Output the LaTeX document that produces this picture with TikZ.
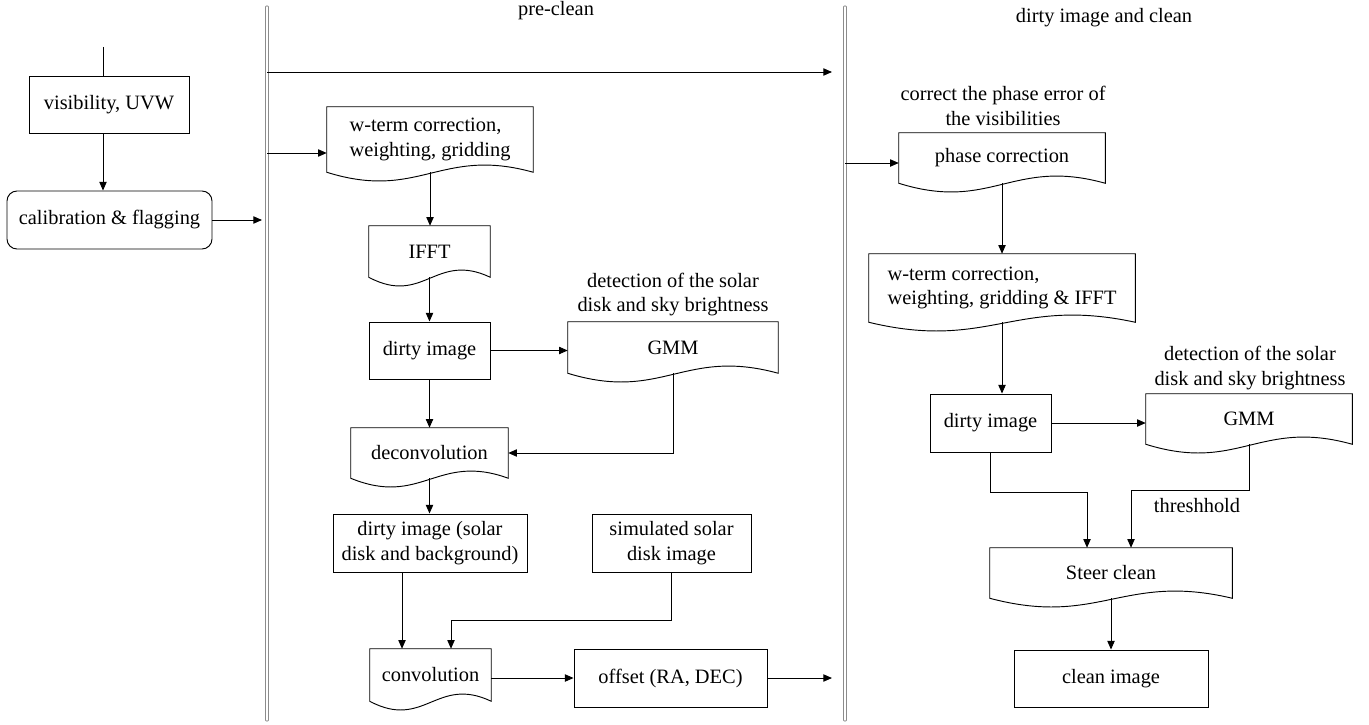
\documentclass[tikz,border=0pt]{standalone}
\usepackage{fontspec}
\setmainfont{Liberation Serif}
\usetikzlibrary{arrows.meta,calc}
\newcommand\fs{\fontsize{15.3}{18.5}\selectfont}
\newcommand\docline[1]{\draw[line] (#1.south west) -- (#1.north west) -- (#1.north east) -- (#1.south east)
  .. controls ($(#1.south west)!0.55!(#1.south east)+(0,-26)$) and ($(#1.south west)!0.45!(#1.south east)+(0,29)$) .. (#1.south west) -- cycle;}
\begin{document}
\begin{tikzpicture}[x=0.75pt,y=-0.75pt,font=\fs,
  line/.style={draw=black,line width=0.7pt},
  arr/.style={line,-{Triangle[length=6.5pt,width=5.5pt]}},
  rail/.style={draw=gray!90,double=white,double distance=1.1pt,line width=0.6pt,line cap=round},
  sz/.style 2 args={minimum width=#1*0.75pt,minimum height=#2*0.75pt},
  box/.style={draw=black,line width=0.7pt,rectangle,inner sep=0pt,align=center},
  doc/.style={rectangle,inner sep=0pt,align=center},
  lbl/.style={inner sep=0pt,align=center}]
\useasboundingbox (0,0) rectangle (1369,724);

% rails
\coordinate (r1t) at (267,7); \coordinate (r1b) at (267,720);
\coordinate (r2t) at (845,7); \coordinate (r2b) at (845,720);
\draw[rail] (r1t) -- (r1b);
\draw[rail] (r2t) -- (r2b);

% titles
\node[lbl] (title1) at (556,11) {pre-clean};
\node[lbl] (title2) at (1104,18) {dirty image and clean};

% left column
\coordinate (in) at (103,47);
\node[box,sz={160}{57}] (vis) at (109,104.5) {visibility, UVW};
\node[box,sz={205}{58},rounded corners=7.5pt] (cal) at (109.5,220) {calibration \& flagging};
\draw[line] (in) -- (in |- vis.north);
\draw[arr] (in |- vis.south) -- (in |- cal.north);
\coordinate (r1e) at (262,220);
\draw[arr] (cal.east) -- (r1e);

% pre-clean lane
\coordinate (t1) at (267,72); \coordinate (t2) at (832,72);
\draw[arr] (t1) -- (t2);
\node[doc,sz={206}{65},align=left] (wt1) at (430,139.5) {w-term correction,\\weighting, gridding};
\docline{wt1}
\coordinate (t3) at (267,153);
\draw[arr] (t3) -- (t3 -| wt1.west);

\node[doc,sz={121}{51}] (ifft) at (429.5,251.5) {IFFT};
\docline{ifft}
\draw[arr] (wt1.south) -- (wt1.south |- ifft.north);

\node[box,sz={121}{57}] (dirty1) at (429.5,350.5) {dirty image};
\draw[arr] (ifft.south) -- (ifft.south |- dirty1.north);

\node[doc,sz={210}{51}] (gmm1) at (673,347.5) {GMM};
\docline{gmm1}
\node[lbl] (det1) at (673,294.5) {detection of the solar\\disk and sky brightness};
\draw[arr] (dirty1.east) -- (dirty1.east -| gmm1.west);

\node[doc,sz={157}{50}] (deconv) at (429.5,453) {deconvolution};
\docline{deconv}
\draw[arr] (dirty1.south) -- (dirty1.south |- deconv.north);
\draw[arr] (gmm1.south) |- (deconv.east);

\node[box,sz={194}{58}] (dsolar) at (430,543) {dirty image (solar\\disk and background)};
\draw[arr] (deconv.south) -- (deconv.south |- dsolar.north);
\node[box,sz={159}{58}] (sim) at (671.5,543) {simulated solar\\disk image};

\node[doc,sz={121}{52}] (conv) at (430.5,675) {convolution};
\docline{conv}
\coordinate (j4) at (402,600);
\draw[arr] (dsolar.south -| j4) -- (conv.north -| j4);
\coordinate (j3) at (451,620);
\draw[arr] (sim.south) |- (j3) -- (j3 |- conv.north);

\node[box,sz={193}{58}] (offset) at (670.5,678) {offset (RA, DEC)};
\draw[arr] (offset.west -| conv.east) -- (offset.west);
\coordinate (t5) at (832,678);
\draw[arr] (offset.east) -- (t5);

% dirty image and clean lane
\node[lbl] (corr) at (1003,106) {correct the phase error of\\the visibilities};
\node[doc,sz={206}{50}] (phase) at (1002,158) {phase correction};
\docline{phase}
\coordinate (t4) at (845,163);
\draw[arr] (t4) -- (t4 -| phase.west);

\node[doc,sz={266}{68},align=left] (wt2) at (1002,288) {w-term correction,\\weighting, gridding \& IFFT};
\docline{wt2}
\draw[arr] (phase.south) -- (phase.south |- wt2.north);

\node[box,sz={121}{58}] (dirty2) at (990.5,423) {dirty image};
\draw[arr] (wt2.south) -- (wt2.south |- dirty2.north);

\node[doc,sz={206}{50}] (gmm2) at (1249,419) {GMM};
\docline{gmm2}
\node[lbl] (det2) at (1250,368) {detection of the solar\\disk and sky brightness};
\draw[arr] (dirty2.east) -- (dirty2.east -| gmm2.west);

\node[doc,sz={242}{50}] (steer) at (1111,573) {Steer clean};
\docline{steer}
\coordinate (j1) at (1087,492);
\draw[arr] (dirty2.south) |- (j1) -- (j1 |- steer.north);
\coordinate (j2) at (1131,490);
\draw[arr] (gmm2.south) |- (j2) -- (j2 |- steer.north);
\node[lbl] (thr) at (1197,506) {threshhold};

\node[box,sz={194}{57}] (clean) at (1111,678.5) {clean image};
\draw[arr] (steer.south) -- (steer.south |- clean.north);
\end{tikzpicture}
\end{document}
